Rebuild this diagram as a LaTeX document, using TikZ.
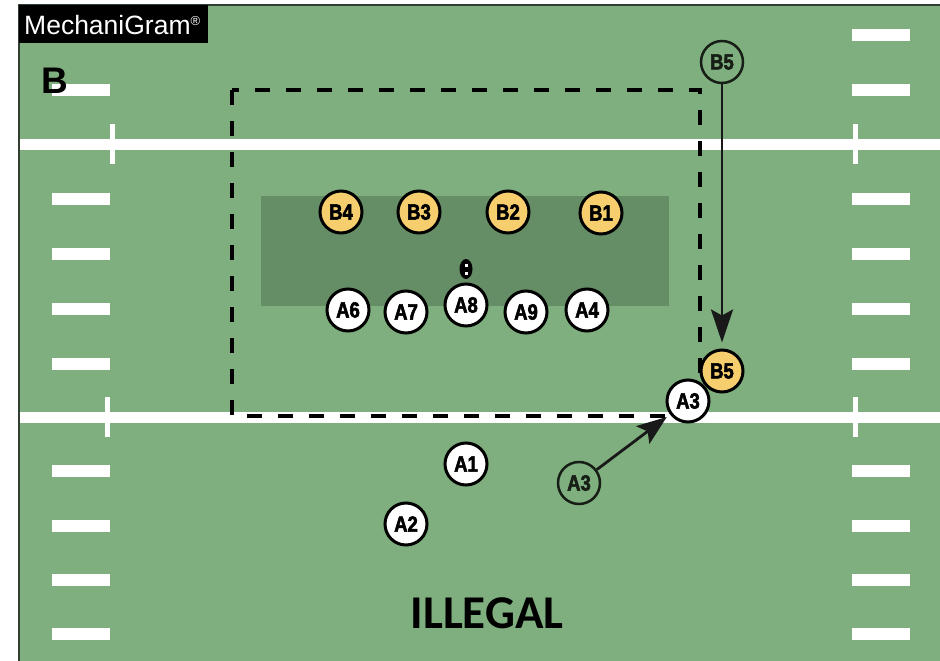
\documentclass[tikz,border=0pt]{standalone}
\usepackage{fontspec}
\setmainfont{Liberation Sans}
\newfontfamily\labfont[FakeStretch=0.84,FakeBold=2.5]{Liberation Sans Bold}
\newfontfamily\carl{Carlito}
\usetikzlibrary{arrows.meta,shapes.geometric}
\definecolor{fieldc}{RGB}{127,175,127}
\definecolor{darkfield}{RGB}{101,141,102}
\definecolor{yellowc}{RGB}{246,206,110}
\definecolor{borderc}{RGB}{50,62,50}
\definecolor{ghostc}{RGB}{22,30,22}
\tikzset{
  hashmark/.style={fill=white},
  player/.style={circle, draw=black, line width=3pt, minimum size=42pt, inner sep=0pt,
    font=\labfont\fontsize{22}{22}\selectfont},
  apl/.style={player, fill=white},
  bpl/.style={player, fill=yellowc},
  ghost/.style={player, draw=ghostc, line width=2.5pt, text=ghostc},
  moveline/.style={line width=2.8pt, draw=black!90, fill=black!90},
}
\begin{document}
\begin{tikzpicture}[x=1pt,y=-1pt]
\useasboundingbox (0,0) rectangle (940,661);
\fill[white] (0,0) rectangle (940,661);
\fill[fieldc] (19,5) rectangle (940,661);
% hash marks
\foreach \yy in {90,199,254,309,364,471,526,580,634}
  \fill[hashmark] (52,\yy-6) rectangle (110,\yy+6);
\foreach \yy in {35,90,199,254,309,364,471,526,580,634}
  \fill[hashmark] (852,\yy-6) rectangle (910,\yy+6);
% yard lines
\fill[white] (19,138.5) rectangle (940,149.5);
\fill[white] (19,411.5) rectangle (940,422.5);
% ticks
\fill[white] (109.5,124) rectangle (114.5,164);
\fill[white] (104.5,397) rectangle (109.5,437);
\fill[white] (852.5,124) rectangle (857.5,164);
\fill[white] (852.5,397) rectangle (857.5,437);
% border
\draw[line width=2pt, borderc] (19,661) -- (19,5) -- (940,5);
% dark box
\fill[darkfield] (261,196) rectangle (669,306);
% dashed zone
\draw[line width=4pt, dash pattern=on 15pt off 16pt] (232,90) rectangle (700,416);
% ball
\node[ellipse, fill=black, minimum width=13pt, minimum height=20pt, inner sep=0pt] (ball) at (466,269) {};
\fill[white] (464.5,263.5) rectangle (467.5,266.5);
\fill[white] (464.5,271.5) rectangle (467.5,274.5);
% players
\node[bpl] (b4) at (341,212) {B4};
\node[bpl] (b3) at (419,212) {B3};
\node[bpl] (b2) at (508,212) {B2};
\node[bpl] (b1) at (601,213) {B1};
\node[apl] (a6) at (348,310) {A6};
\node[apl] (a7) at (406,312) {A7};
\node[apl] (a8) at (466,305) {A8};
\node[apl] (a9) at (526,312) {A9};
\node[apl] (a4) at (587,310) {A4};
\node[ghost] (b5a) at (722,62) {B5};
\node[bpl] (b5b) at (722,371) {B5};
\node[apl] (a3b) at (688,401) {A3};
\node[ghost] (a3a) at (579,483) {A3};
\node[apl] (a1) at (466,464) {A1};
\node[apl] (a2) at (406,524) {A2};
% movements
\draw[moveline, shorten >=6pt, -{Stealth[length=33pt,width=22pt,inset=6pt]}] (b5a) -- (b5b);
\draw[moveline, shorten >=4pt, -{Stealth[length=30pt,width=22pt,inset=6pt]}] (a3a) -- (a3b);
% logo
\fill[black] (19,5) rectangle (208,43);
\node[text=white, anchor=west, inner sep=0pt, font=\fontsize{26.5}{26.5}\selectfont] (logo) at (24,25)
  {MechaniGram\raisebox{9pt}{\fontsize{13}{13}\selectfont ®}};
\node[anchor=west, inner sep=0pt, font=\bfseries\fontsize{37}{37}\selectfont] (blabel) at (41,81) {B};
\node[font=\carl\bfseries\fontsize{47}{47}\selectfont] (illegal) at (487,613) {ILLEGAL};
\end{tikzpicture}
\end{document}
